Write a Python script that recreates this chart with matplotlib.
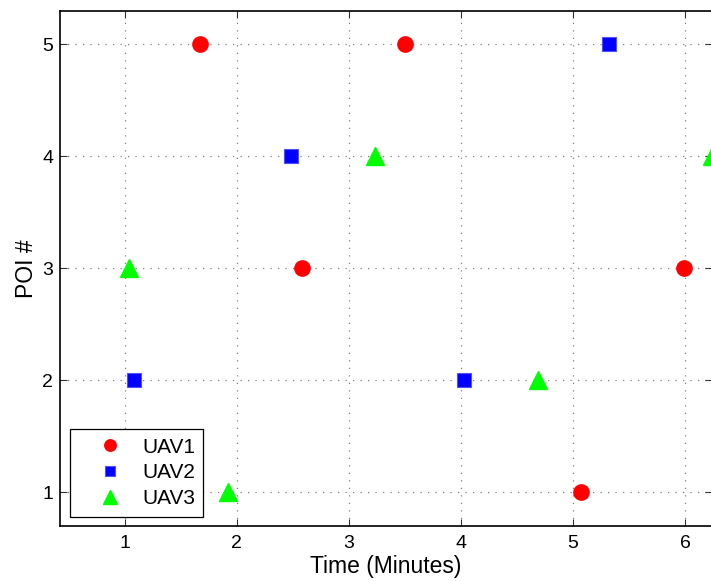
import matplotlib
matplotlib.use('Agg')
import matplotlib.pyplot as plt

plt.rcParams['font.family'] = ['Liberation Sans', 'DejaVu Sans']

# tiempos (minutos) y POI visitado por cada UAV
uav1_t = [1.67, 3.50, 2.58, 5.07, 5.99]
uav1_poi = [5, 5, 3, 1, 3]
uav2_t = [1.08, 2.48, 4.03, 5.32]
uav2_poi = [2, 4, 2, 5]
uav3_t = [1.04, 1.92, 3.23, 4.69, 6.24]
uav3_poi = [3, 1, 4, 2, 4]

xticks = [1, 2, 3, 4, 5, 6]
yticks = [1, 2, 3, 4, 5]

fig = plt.figure(figsize=(7.11, 5.81), dpi=100)
ax = fig.add_axes([60 / 711, 55.3 / 581, 652 / 711, 514.7 / 581])

ax.plot(uav1_t, uav1_poi, 'o', color='#ff0000', ms=11, mec='#ff0000', label='UAV1')
ax.plot(uav2_t, uav2_poi, 's', color='#0000ff', ms=9.8, mec='#5050ff', mew=0.8, label='UAV2')
ax.plot(uav3_t, uav3_poi, '^', color='#00ff00', ms=13.5, mec='#00ff00', label='UAV3')

ax.set_xlim(0.4226, 6.24)
ax.set_ylim(0.702, 5.297)
ax.set_xticks(xticks)
ax.set_yticks(yticks)
ax.grid(True, color='#808080', ls=(0, (1, 5)), lw=0.9)
ax.tick_params(direction='in', length=5, width=0.8, top=True, right=True,
               labelsize=14, color='#333333')
ax.tick_params(axis='x', pad=7)
ax.tick_params(axis='y', pad=5)
for s in ax.spines.values():
    s.set_linewidth(1.2)

ax.set_xlabel('Time (Minutes)', fontsize=16.5, labelpad=2)
ax.set_ylabel('POI #', fontsize=16.5, labelpad=3)

leg = ax.legend(loc='lower left', bbox_to_anchor=(10 / 652, 9 / 514.7),
                borderaxespad=0, fontsize=15, fancybox=False, edgecolor='black',
                framealpha=1, markerscale=0.75, handlelength=3.0,
                handletextpad=0.05, borderpad=0.4, labelspacing=0.33)
leg.get_frame().set_linewidth(0.9)

fig.savefig('out.png', dpi=100)
